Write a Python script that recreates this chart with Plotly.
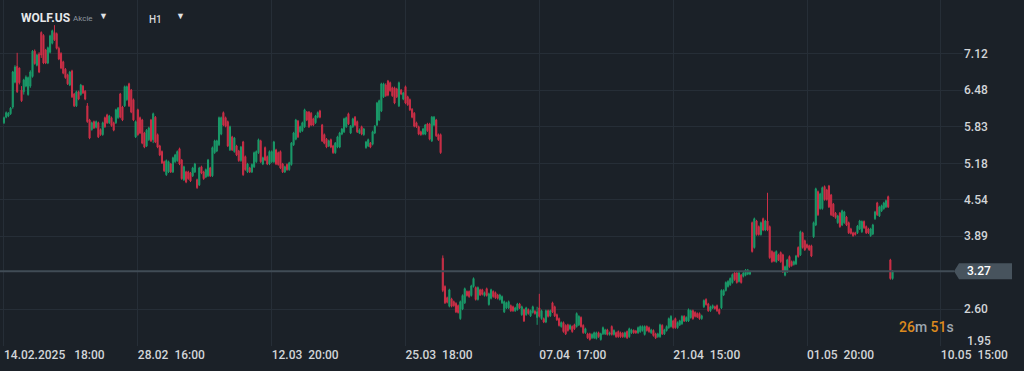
import plotly.graph_objects as go

# ---------------- data (hourly candles, WOLF.US) ----------------
OPEN = [
5.90,6.00,6.02,6.06,6.18,6.62,6.90,6.87,6.48,6.45, 6.55,6.40,6.55,6.72,7.17,6.92,7.12,7.50,7.45,7.19,
6.96,7.15,7.31,7.50,7.48,7.22,7.13,6.98,6.85,6.75, 6.57,6.82,6.41,6.20,6.45,6.40,6.55,6.46,6.20,5.95,
5.78,5.92,5.82,5.90,5.78,5.69,5.99,6.04,5.90,5.99, 5.90,5.90,5.99,6.41,6.18,6.20,6.31,6.59,6.48,6.31,
5.65,6.13,5.99,5.95,5.72,5.49,5.60,5.95,5.60,6.00, 5.69,5.49,5.39,5.21,4.98,5.03,5.17,5.03,5.21,5.23,
5.44,5.24,4.89,5.03,5.03,5.01,4.96,5.03,4.89,4.80, 5.12,5.03,4.94,4.96,5.10,4.96,5.37,5.40,5.51,5.70,
6.08,5.99,5.92,5.42,5.65,5.39,5.49,5.40,5.23,5.56, 5.30,5.03,5.10,5.03,5.12,5.21,5.37,5.58,5.17,5.46,
5.30,5.17,5.21,5.21,5.42,5.37,5.39,5.17,5.03,5.16, 5.07,5.16,5.51,5.61,5.93,5.74,5.76,5.83,6.09,6.09,
6.07,5.97,5.90,6.00,6.11,5.86,5.69,5.61,5.49,5.60, 5.49,5.37,5.47,5.47,5.70,5.74,5.83,6.06,5.72,5.83,
6.00,5.92,5.72,5.83,5.69,5.46,5.49,5.54,5.52,5.72, 5.86,5.95,6.11,6.36,6.57,6.64,6.61,6.52,6.52,6.50,
6.20,6.48,6.32,6.54,6.36,6.31,6.14,6.07,5.90,5.83, 5.74,5.70,5.70,5.88,5.88,5.58,5.86,5.95,5.69,5.69,
3.50,3.00,2.80,2.65,2.78,2.73,2.70,2.66,2.43,2.60, 2.71,2.91,2.91,2.84,3.00,2.98,2.77,2.94,2.94,2.84,
2.96,2.68,2.79,2.91,2.89,2.85,2.77,2.71,2.55,2.62, 2.62,2.66,2.64,2.57,2.59,2.69,2.50,2.59,2.50,2.59,
2.48,2.54,2.56,2.45,2.62,2.43,2.43,2.37,2.57,2.48, 2.71,2.64,2.50,2.43,2.29,2.36,2.31,2.32,2.25,2.29,
2.32,2.29,2.32,2.45,2.31,2.18,2.16,2.16,2.09,2.09, 2.08,2.18,2.06,2.16,2.16,2.23,2.15,2.29,2.15,2.18,
2.20,2.18,2.17,2.11,2.20,2.11,2.18,2.22,2.21,2.18, 2.20,2.22,2.15,2.29,2.27,2.18,2.22,2.16,2.11,2.11,
2.31,2.16,2.22,2.27,2.29,2.39,2.43,2.27,2.32,2.34, 2.47,2.39,2.39,2.45,2.57,2.54,2.52,2.52,2.43,2.64,
2.77,2.69,2.57,2.62,2.64,2.66,2.59,2.62,2.85,2.93, 3.00,3.03,3.07,3.24,3.24,3.09,3.20,3.18,3.20,3.22,
3.22,4.13,3.69,4.16,4.06,3.92,4.20,4.00,4.16,4.06, 3.62,3.60,3.44,3.56,3.60,3.56,3.20,3.26,3.53,3.44,
3.39,3.40,3.69,3.56,3.95,3.81,3.74,3.72,3.72,3.88, 4.09,4.68,4.38,4.38,4.77,4.71,4.78,4.62,4.46,4.30,
4.13,4.30,4.09,4.13,4.23,4.13,4.02,3.95,3.95,3.95, 4.02,3.97,4.15,4.06,4.02,3.90,3.93,4.20,4.48,4.25,
4.34,4.38,4.41,4.59,3.47,3.14,
]
HIGH = [
6.01,6.10,6.09,6.18,6.82,6.92,7.14,6.88,6.55,6.68, 6.74,6.72,6.83,7.19,7.20,7.12,7.15,7.52,7.47,7.21,
7.25,7.46,7.55,7.63,7.50,7.25,7.15,7.00,6.87,6.77, 6.82,6.84,6.43,6.47,6.47,6.59,6.57,6.48,6.25,5.97,
5.92,5.94,5.94,5.92,5.80,5.92,6.01,6.06,6.04,6.01, 5.92,6.15,6.18,6.43,6.20,6.56,6.56,6.61,6.50,6.33,
5.94,6.15,6.01,5.97,5.74,5.79,5.83,5.97,6.08,6.02, 5.71,5.51,5.41,5.23,5.25,5.23,5.19,5.30,5.35,5.41,
5.46,5.26,5.14,5.05,5.05,5.03,5.12,5.19,4.91,5.12, 5.14,5.05,5.09,5.26,5.12,5.48,5.60,5.60,6.01,6.01,
6.10,6.01,5.94,5.85,5.67,5.65,5.51,5.42,5.49,5.58, 5.32,5.19,5.12,5.18,5.39,5.41,5.62,5.60,5.30,5.48,
5.32,5.41,5.41,5.58,5.44,5.39,5.41,5.19,5.14,5.18, 5.21,5.56,5.74,5.97,5.95,5.85,5.92,6.15,6.11,6.11,
6.09,5.99,6.04,6.10,6.13,5.88,5.71,5.63,5.60,5.62, 5.51,5.56,5.67,5.74,5.81,5.99,6.01,6.08,5.86,5.99,
6.02,5.94,5.80,5.85,5.81,5.58,5.62,5.56,5.76,5.86, 6.27,6.31,6.61,6.61,6.60,6.66,6.63,6.54,6.54,6.52,
6.63,6.50,6.45,6.56,6.38,6.33,6.16,6.09,5.92,5.85, 5.76,5.81,5.88,5.90,5.90,6.02,6.02,5.97,5.71,5.71,
3.55,3.02,2.82,2.96,2.80,2.75,2.72,2.68,2.75,2.86, 2.98,2.93,2.93,3.03,3.16,3.00,3.00,2.96,2.96,2.91,
2.98,2.89,2.96,2.93,2.91,2.87,2.87,2.84,2.75,2.73, 2.75,2.68,2.66,2.64,2.71,2.71,2.66,2.61,2.64,2.61,
2.59,2.66,2.58,2.64,2.87,2.59,2.45,2.59,2.59,2.59, 2.73,2.66,2.52,2.45,2.38,2.38,2.33,2.34,2.33,2.31,
2.34,2.54,2.49,2.47,2.33,2.27,2.18,2.18,2.17,2.20, 2.20,2.20,2.18,2.29,2.25,2.25,2.20,2.31,2.24,2.20,
2.22,2.20,2.19,2.20,2.22,2.27,2.25,2.24,2.23,2.29, 2.31,2.31,2.31,2.31,2.29,2.25,2.24,2.18,2.18,2.34,
2.33,2.25,2.31,2.45,2.49,2.41,2.45,2.38,2.41,2.49, 2.49,2.47,2.61,2.59,2.59,2.56,2.54,2.54,2.50,2.77,
2.79,2.71,2.66,2.68,2.66,2.68,2.61,2.95,2.95,3.09, 3.11,3.16,3.23,3.26,3.26,3.26,3.22,3.26,3.31,3.31,
3.28,4.15,4.22,4.18,4.08,4.15,4.22,4.18,4.66,4.08, 3.64,3.62,3.64,3.58,3.62,3.58,3.37,3.49,3.55,3.46,
3.46,3.56,3.71,3.99,3.97,3.83,3.76,3.74,3.74,4.15, 4.75,4.70,4.66,4.77,4.79,4.73,4.80,4.64,4.48,4.32,
4.27,4.32,4.36,4.34,4.25,4.15,4.04,3.97,3.97,4.09, 4.18,4.17,4.17,4.08,4.04,4.04,4.11,4.34,4.50,4.43,
4.45,4.50,4.54,4.61,3.49,3.29,
]
LOW = [
5.88,5.98,6.00,6.04,6.15,6.60,6.43,6.58,6.27,6.40, 6.53,6.38,6.52,6.70,6.93,6.90,6.78,7.05,6.94,6.94,
6.94,7.13,7.29,7.35,7.20,7.01,6.85,6.76,6.68,6.57, 6.55,6.34,6.18,6.18,6.30,6.38,6.41,6.30,5.90,5.61,
5.76,5.79,5.80,5.63,5.67,5.67,5.81,5.88,5.88,5.83, 5.75,5.88,5.97,5.98,5.93,6.18,6.29,6.18,6.07,5.93,
5.63,5.67,5.70,5.52,5.45,5.47,5.58,5.56,5.54,5.54, 5.45,5.31,5.17,5.03,4.96,5.01,5.01,5.01,5.19,5.21,
5.15,4.89,4.87,4.83,4.89,4.85,4.94,5.01,4.73,4.78, 4.99,4.89,4.92,4.94,4.94,4.94,5.35,5.38,5.49,5.68,
5.84,5.82,5.47,5.40,5.40,5.37,5.31,5.21,5.21,4.96, 5.05,5.01,5.01,5.01,5.10,5.19,5.35,5.19,5.15,5.22,
5.15,5.15,5.19,5.19,5.15,5.14,5.08,5.01,5.01,5.05, 5.05,5.14,5.49,5.59,5.63,5.72,5.74,5.81,5.93,5.81,
5.84,5.84,5.88,5.98,5.98,5.56,5.52,5.45,5.47,5.45, 5.35,5.35,5.45,5.45,5.68,5.72,5.81,5.86,5.70,5.81,
5.84,5.72,5.70,5.68,5.67,5.44,5.47,5.45,5.50,5.70, 5.84,5.93,6.09,6.34,6.36,6.37,6.45,6.36,6.23,6.34,
6.18,6.39,6.30,6.23,6.20,6.11,5.98,5.82,5.81,5.68, 5.67,5.68,5.68,5.74,5.59,5.56,5.84,5.65,5.58,5.35,
2.90,2.69,2.70,2.63,2.63,2.64,2.53,2.52,2.41,2.58, 2.69,2.82,2.80,2.82,2.98,2.75,2.75,2.83,2.84,2.82,
2.82,2.66,2.77,2.80,2.78,2.77,2.75,2.69,2.53,2.60, 2.60,2.55,2.55,2.55,2.57,2.60,2.48,2.37,2.48,2.50,
2.46,2.52,2.50,2.32,2.45,2.41,2.35,2.35,2.45,2.46, 2.53,2.46,2.39,2.29,2.27,2.18,2.14,2.20,2.23,2.18,
2.23,2.27,2.30,2.27,2.16,2.16,2.07,2.04,2.07,2.07, 2.06,2.09,2.04,2.14,2.14,2.13,2.13,2.13,2.13,2.09,
2.09,2.09,2.09,2.09,2.07,2.09,2.16,2.16,2.16,2.16, 2.18,2.20,2.13,2.20,2.18,2.16,2.11,2.07,2.09,2.09,
2.14,2.14,2.20,2.25,2.27,2.25,2.25,2.25,2.30,2.32, 2.37,2.37,2.37,2.43,2.41,2.45,2.44,2.41,2.41,2.62,
2.66,2.55,2.55,2.60,2.59,2.55,2.50,2.60,2.83,2.91, 2.98,3.01,3.05,3.10,3.05,3.07,3.05,3.16,3.18,3.20,
3.20,3.60,3.67,3.90,3.90,3.90,3.98,3.98,3.98,3.49, 3.42,3.43,3.42,3.45,3.42,3.24,3.18,3.24,3.33,3.35,
3.37,3.38,3.51,3.54,3.67,3.63,3.67,3.63,3.52,3.86, 4.07,4.25,4.36,4.36,4.52,4.52,4.39,4.25,4.23,4.20,
4.11,4.04,4.07,4.11,4.07,3.93,3.92,3.88,3.90,3.93, 4.00,3.95,4.02,3.93,3.93,3.88,3.91,4.18,4.25,4.23,
4.32,4.36,4.39,4.39,3.12,3.12,
]
CLOSE = [
5.99,6.08,6.07,6.16,6.80,6.89,6.45,6.61,6.29,6.66, 6.71,6.70,6.80,7.17,6.95,7.10,6.80,7.10,6.96,6.96,
7.23,7.44,7.53,7.37,7.22,7.03,6.87,6.78,6.70,6.59, 6.80,6.36,6.20,6.45,6.32,6.57,6.43,6.32,5.92,5.63,
5.90,5.81,5.92,5.65,5.69,5.90,5.83,5.90,6.02,5.85, 5.77,6.13,6.16,6.00,5.95,6.54,6.54,6.20,6.09,5.95,
5.92,5.69,5.72,5.54,5.47,5.77,5.81,5.58,6.06,5.56, 5.47,5.33,5.19,5.05,5.23,5.21,5.03,5.28,5.33,5.39,
5.17,4.91,5.12,4.85,4.91,4.87,5.10,5.17,4.75,5.10, 5.01,4.91,5.07,5.24,4.96,5.46,5.58,5.58,5.99,5.99,
5.86,5.84,5.49,5.83,5.42,5.63,5.33,5.23,5.47,4.98, 5.07,5.17,5.03,5.16,5.37,5.39,5.60,5.21,5.28,5.24,
5.17,5.39,5.39,5.56,5.17,5.16,5.10,5.03,5.12,5.07, 5.19,5.54,5.72,5.95,5.65,5.83,5.90,6.13,5.95,5.83,
5.86,5.86,6.02,6.08,6.00,5.58,5.54,5.47,5.58,5.47, 5.37,5.54,5.65,5.72,5.79,5.97,5.99,5.88,5.84,5.97,
5.86,5.74,5.77,5.70,5.79,5.56,5.60,5.47,5.74,5.84, 6.25,6.29,6.59,6.59,6.38,6.39,6.47,6.38,6.25,6.36,
6.61,6.41,6.43,6.25,6.22,6.13,6.00,5.84,5.83,5.70, 5.69,5.79,5.86,5.76,5.61,6.00,6.00,5.67,5.60,5.37,
2.93,2.71,2.72,2.94,2.65,2.66,2.55,2.54,2.73,2.84, 2.96,2.84,2.82,3.01,3.14,2.77,2.98,2.85,2.86,2.89,
2.84,2.87,2.94,2.82,2.80,2.79,2.85,2.82,2.73,2.71, 2.73,2.57,2.57,2.62,2.69,2.62,2.64,2.39,2.62,2.52,
2.57,2.64,2.52,2.55,2.47,2.57,2.37,2.57,2.47,2.57, 2.55,2.48,2.41,2.31,2.36,2.20,2.16,2.22,2.31,2.20,
2.25,2.52,2.47,2.29,2.18,2.25,2.09,2.06,2.15,2.18, 2.18,2.11,2.16,2.27,2.23,2.15,2.18,2.15,2.22,2.11,
2.11,2.11,2.11,2.18,2.09,2.25,2.23,2.18,2.18,2.27, 2.29,2.29,2.29,2.22,2.20,2.23,2.13,2.09,2.16,2.32,
2.16,2.23,2.29,2.43,2.47,2.27,2.27,2.36,2.39,2.47, 2.39,2.45,2.59,2.57,2.43,2.47,2.46,2.43,2.48,2.75,
2.68,2.57,2.64,2.66,2.61,2.57,2.52,2.93,2.93,3.07, 3.09,3.14,3.21,3.12,3.07,3.24,3.07,3.24,3.29,3.29,
3.26,3.62,4.20,3.92,3.92,4.13,4.00,4.16,4.00,3.51, 3.44,3.45,3.62,3.47,3.44,3.26,3.35,3.47,3.35,3.37,
3.44,3.54,3.53,3.97,3.69,3.65,3.69,3.65,3.54,4.13, 4.73,4.27,4.64,4.75,4.54,4.54,4.41,4.27,4.25,4.22,
4.25,4.06,4.34,4.32,4.09,3.95,3.94,3.90,3.92,4.07, 4.16,4.15,4.04,3.95,3.95,4.02,4.09,4.32,4.27,4.41,
4.43,4.48,4.52,4.41,3.14,3.27,
]

TICK_POS = [0, 61, 122, 183, 244, 305, 366, 427]
TICK_DATE = ["14.02.2025", "28.02", "12.03", "25.03", "07.04", "21.04", "01.05", "10.05"]
TICK_TIME = ["18:00", "16:00", "20:00", "18:00", "17:00", "15:00", "20:00", "15:00"]
Y_TICKS = [7.12, 6.48, 5.83, 5.18, 4.54, 3.89, 2.60]
Y_BOTTOM_TICK = 1.95
LAST_PRICE = CLOSE[-1]
SYMBOL, KIND, TF = "WOLF.US", "Akcie", "H1"
COUNT_MIN, COUNT_SEC = "26", "51"

# ---------------- style ----------------
BG = "#1b2128"
GRID = "#262e37"
TXT = "#d2d5d8"
GREEN = "#1a9a69"
RED = "#cc2f47"
FONT = "Roboto"

x = list(range(len(CLOSE)))

fig = go.Figure(go.Candlestick(
    x=x, open=OPEN, high=HIGH, low=LOW, close=CLOSE,
    increasing=dict(line=dict(color=GREEN, width=1), fillcolor=GREEN),
    decreasing=dict(line=dict(color=RED, width=1), fillcolor=RED),
    whiskerwidth=0, hoverinfo="skip", showlegend=False,
))

sep = {0: "\u00a0\u00a0\u00a0"}
ticktext = [d + sep.get(k, "\u00a0\u00a0") + t for k, (d, t) in enumerate(zip(TICK_DATE, TICK_TIME))]
tfont = dict(size=12, color=TXT, family=FONT, weight=500)

fig.update_layout(
    width=1024, height=371,
    margin=dict(l=0, r=61, t=0, b=25),
    paper_bgcolor=BG, plot_bgcolor=BG,
    font=dict(family=FONT, color=TXT, size=12),
    xaxis=dict(
        range=[-1.82, 437.1], rangeslider=dict(visible=False),
        tickvals=TICK_POS, ticktext=ticktext, ticklabelposition="outside right",
        showgrid=True, gridcolor=GRID, gridwidth=1, zeroline=False, showline=False,
        ticks="", tickfont=tfont, fixedrange=True,
    ),
    yaxis=dict(
        side="right", range=[1.945, 8.076],
        tickvals=Y_TICKS + [Y_BOTTOM_TICK],
        ticktext=[f"{v:.2f}" for v in Y_TICKS] + [""],
        showgrid=True, gridcolor=GRID, gridwidth=1, zeroline=False, showline=False,
        ticks="", tickfont=tfont, fixedrange=True,
    ),
)

# current price line and label box
tip = 954 / 963
bx0, bx1 = 959 / 963, 1012 / 963
hh = 0.142
fig.add_shape(type="line", xref="paper", yref="y", x0=0, x1=tip, y0=LAST_PRICE, y1=LAST_PRICE,
              line=dict(color="#414c56", width=2), layer="above")
fig.add_shape(type="path", xref="paper", yref="y",
              path=f"M {tip},{LAST_PRICE} L {bx0},{LAST_PRICE + hh} L {bx1},{LAST_PRICE + hh} "
                   f"L {bx1},{LAST_PRICE - hh} L {bx0},{LAST_PRICE - hh} Z",
              fillcolor="#47535d", line=dict(width=0), layer="above")
fig.add_annotation(x=965 / 963, y=LAST_PRICE, xref="paper", yref="y", xanchor="left",
                   text=f"{LAST_PRICE:.2f}", showarrow=False,
                   font=dict(size=12, color="#ffffff", family=FONT, weight=500))
# bottom price label, lifted above the time axis
fig.add_annotation(x=965 / 963, y=Y_BOTTOM_TICK, xref="paper", yref="y", xanchor="left",
                   yanchor="middle", yshift=5, text=f"{Y_BOTTOM_TICK:.2f}", showarrow=False,
                   font=tfont)
# countdown
OR, GR = "#dc8a1e", "#9ea6ae"
fig.add_annotation(x=956 / 963, y=2.288, xref="paper", yref="y", xanchor="right", showarrow=False,
                   text=f"<span style='color:{OR}'>{COUNT_MIN}</span><span style='color:{GR}'>m </span>"
                        f"<span style='color:{OR}'>{COUNT_SEC}</span><span style='color:{GR}'>s</span>",
                   font=dict(size=14, family=FONT, weight=500))
# header
fig.add_annotation(x=19 / 963, y=(346 - 18) / 346, xref="paper", yref="paper", xanchor="left", yanchor="middle",
                   text=f"<b>{SYMBOL}</b>", showarrow=False, font=dict(size=12, color="#e6e8ea", family=FONT))
fig.add_annotation(x=71 / 963, y=(346 - 19) / 346, xref="paper", yref="paper", xanchor="left", yanchor="middle",
                   text=KIND, showarrow=False, font=dict(size=8, color="#8e969e", family=FONT))
fig.add_annotation(x=97 / 963, y=(346 - 16) / 346, xref="paper", yref="paper", xanchor="left", yanchor="middle",
                   text="▼", showarrow=False, font=dict(size=9, color="#e0e2e4", family=FONT))
fig.add_annotation(x=147 / 963, y=(346 - 20) / 346, xref="paper", yref="paper", xanchor="left", yanchor="middle",
                   text=TF, showarrow=False, font=dict(size=10, color="#d6d8db", family=FONT, weight=500))
fig.add_annotation(x=174 / 963, y=(346 - 16) / 346, xref="paper", yref="paper", xanchor="left", yanchor="middle",
                   text="▼", showarrow=False, font=dict(size=9, color="#e0e2e4", family=FONT))

fig.write_html("out.html", config={"displayModeBar": False},
               post_script="document.body.style.margin='0';document.body.style.background='" + BG + "';")
